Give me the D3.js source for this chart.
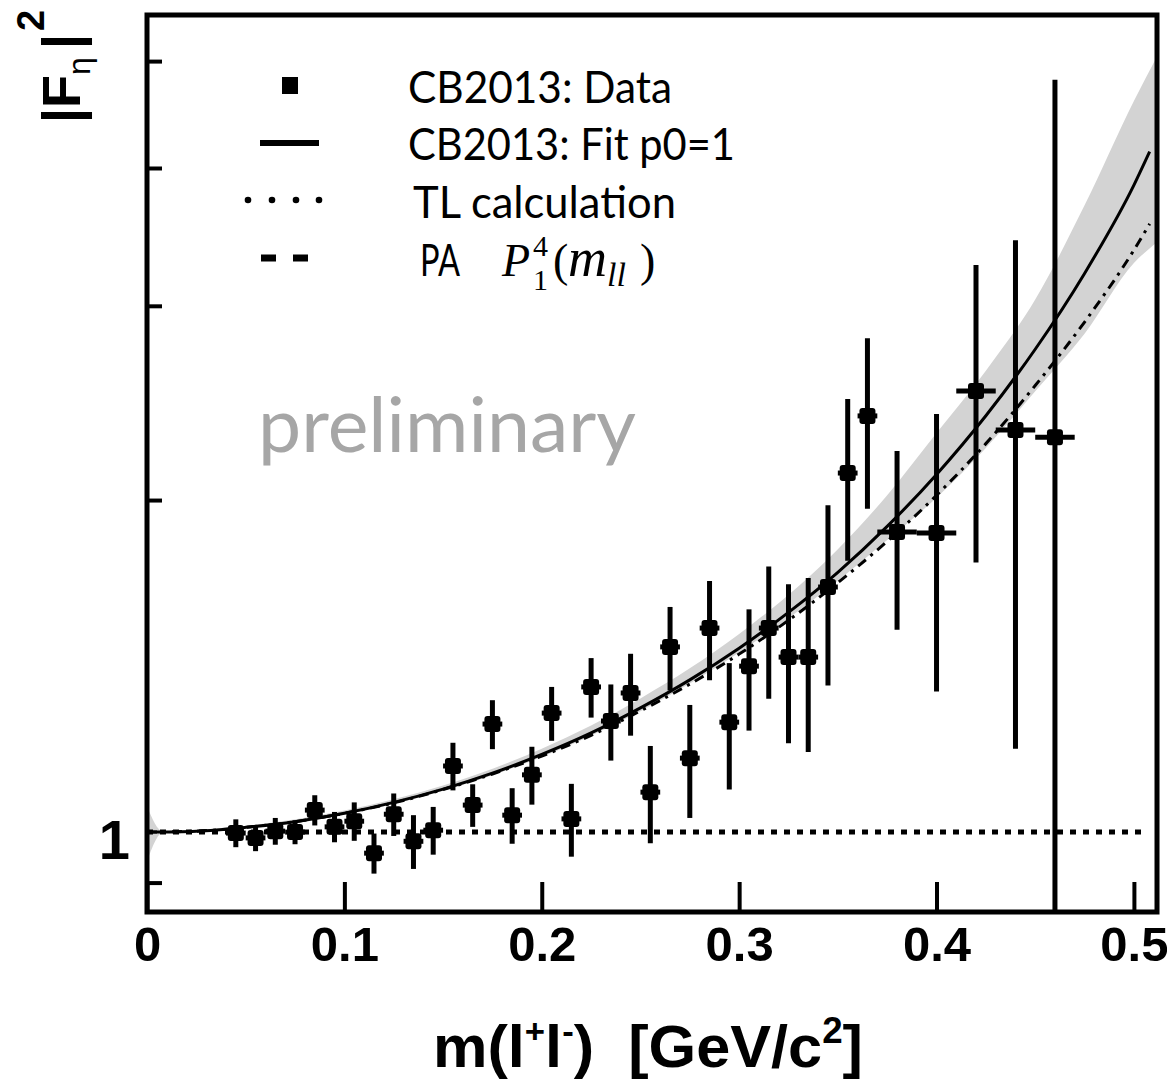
<!DOCTYPE html>
<html>
<head>
<meta charset="utf-8">
<script src="https://cdn.jsdelivr.net/npm/d3@7"></script>
<style>
  body { margin: 0; background: #fff; }
  svg { display: block; }
</style>
</head>
<body>
<svg class="ffEta"></svg>
<script>
// data points (m(l+l-) bin centres, |F|^2, errors)
const dataX = [0.045, 0.055, 0.065, 0.075, 0.085, 0.095, 0.105, 0.115, 0.125, 0.135,
               0.145, 0.155, 0.165, 0.175, 0.185, 0.195, 0.205, 0.215, 0.225, 0.235,
               0.245, 0.255, 0.265, 0.275, 0.285, 0.295, 0.305, 0.315, 0.325, 0.335,
               0.345, 0.355, 0.365, 0.38, 0.40, 0.42, 0.44, 0.46];
const dataY = [0.998, 0.988, 1.002, 1.000, 1.047, 1.011, 1.023, 0.957, 1.038, 0.981,
               1.004, 1.148, 1.058, 1.253, 1.036, 1.127, 1.282, 1.028, 1.354, 1.261,
               1.337, 1.087, 1.472, 1.167, 1.531, 1.258, 1.414, 1.531, 1.441, 1.441,
               1.668, 2.116, 2.384, 1.871, 1.867, 2.511, 2.315, 2.280];
const dataErrY = [0.029, 0.027, 0.028, 0.025, 0.033, 0.032, 0.041, 0.040, 0.046, 0.055,
                  0.050, 0.057, 0.047, 0.064, 0.060, 0.068, 0.072, 0.078, 0.084, 0.100,
                  0.114, 0.110, 0.128, 0.137, 0.158, 0.165, 0.178, 0.210, 0.237, 0.259,
                  0.310, 0.354, 0.420, 0.345, 0.526, 0.755, 1.125, 2.530];
const dataErrX = [0.005, 0.005, 0.005, 0.005, 0.005, 0.005, 0.005, 0.005, 0.005, 0.005,
                  0.005, 0.005, 0.005, 0.005, 0.005, 0.005, 0.005, 0.005, 0.005, 0.005,
                  0.005, 0.005, 0.005, 0.005, 0.005, 0.005, 0.005, 0.005, 0.005, 0.005,
                  0.005, 0.005, 0.005, 0.01, 0.01, 0.01, 0.01, 0.01];

// fit curve (p0=1) and PA P_1^4 curve
const curveX = [0, 0.025, 0.05, 0.075, 0.1, 0.125, 0.15, 0.175, 0.2, 0.225, 0.25,
                0.275, 0.3, 0.325, 0.35, 0.375, 0.4, 0.425, 0.45, 0.475, 0.5, 0.508];
const fitY = [1.000, 1.002, 1.010, 1.022, 1.040, 1.064, 1.094, 1.131, 1.176, 1.230, 1.296,
              1.374, 1.468, 1.582, 1.720, 1.893, 2.110, 2.385, 2.740, 3.210, 3.860, 4.140];
const paY = [1.000, 1.002, 1.010, 1.022, 1.040, 1.063, 1.093, 1.129, 1.172, 1.224, 1.288,
             1.362, 1.450, 1.556, 1.683, 1.835, 2.020, 2.250, 2.540, 2.900, 3.370, 3.560];

// fit error band
const bandX = [0, 0.008, 0.05, 0.1, 0.15, 0.2, 0.25, 0.3, 0.35, 0.375, 0.4, 0.425, 0.45, 0.475, 0.5, 0.512];
const bandHi = [1.055, 1.002, 1.013, 1.046, 1.102, 1.190, 1.322, 1.512, 1.805, 2.020, 2.300, 2.620, 3.040, 3.700, 4.600, 5.060];
const bandLo = [0.940, 0.999, 1.007, 1.037, 1.090, 1.170, 1.287, 1.455, 1.690, 1.840, 2.010, 2.230, 2.510, 2.830, 3.280, 3.430];

// TL calculation
const tlX = [0, 0.506];
const tlY = [1, 1];

// axes
const xTicks = [0, 0.1, 0.2, 0.3, 0.4, 0.5];
const yTicks = [0.9, 1, 2, 3, 4, 5];

const legendLabels = ["CB2013: Data", "CB2013: Fit p0=1", "TL calculation", "PA"];

const margin = {top: 15, right: 10, bottom: 169, left: 147},
      width = 1167 - margin.left - margin.right,
      height = 1081 - margin.top - margin.bottom;

const root = d3.select(".ffEta")
    .attr("width", 1167)
    .attr("height", 1081);

const svg = root.append("g")
    .attr("transform", `translate(${margin.left},${margin.top})`);

const x = d3.scaleLinear().domain([0, 0.5117]).range([0, width]);
const y = d3.scaleLog().domain([0.8464, 5.505]).range([height, 0]);

root.append("defs").append("clipPath")
    .attr("id", "plotClip")
    .append("rect")
    .attr("width", width)
    .attr("height", height);

const plot = svg.append("g").attr("clip-path", "url(#plotClip)");

// band
const bandData = bandX.map((d, i) => ({x: d, lo: bandLo[i], hi: bandHi[i]}));
plot.append("path")
    .datum(bandData)
    .attr("fill", "#d3d3d3")
    .attr("d", d3.area()
        .x(d => x(d.x))
        .y0(d => y(d.lo))
        .y1(d => y(d.hi))
        .curve(d3.curveMonotoneX));

// TL line
plot.append("path")
    .datum(tlX.map((d, i) => ({x: d, y: tlY[i]})))
    .attr("fill", "none")
    .attr("stroke", "black")
    .attr("stroke-width", 5)
    .attr("stroke-dasharray", "6,7")
    .attr("d", d3.line().x(d => x(d.x)).y(d => y(d.y)));

// PA line
plot.append("path")
    .datum(curveX.map((d, i) => ({x: d, y: paY[i]})))
    .attr("fill", "none")
    .attr("stroke", "black")
    .attr("stroke-width", 3)
    .attr("stroke-dasharray", "10,6,3,6")
    .attr("d", d3.line().x(d => x(d.x)).y(d => y(d.y)).curve(d3.curveMonotoneX));

// fit line
plot.append("path")
    .datum(curveX.map((d, i) => ({x: d, y: fitY[i]})))
    .attr("fill", "none")
    .attr("stroke", "black")
    .attr("stroke-width", 3)
    .attr("d", d3.line().x(d => x(d.x)).y(d => y(d.y)).curve(d3.curveMonotoneX));

// data points
const points = dataX.map((d, i) => ({x: d, y: dataY[i], ey: dataErrY[i], ex: dataErrX[i]}));
const yMin = y.domain()[0];

plot.selectAll(".ebarY")
    .data(points)
    .enter()
    .append("line")
    .attr("x1", d => x(d.x))
    .attr("x2", d => x(d.x))
    .attr("y1", d => y(Math.max(d.y - d.ey, yMin)))
    .attr("y2", d => y(d.y + d.ey))
    .attr("stroke", "black")
    .attr("stroke-width", 5);

plot.selectAll(".ebarX")
    .data(points)
    .enter()
    .append("line")
    .attr("x1", d => x(d.x - d.ex))
    .attr("x2", d => x(d.x + d.ex))
    .attr("y1", d => y(d.y))
    .attr("y2", d => y(d.y))
    .attr("stroke", "black")
    .attr("stroke-width", 5);

plot.selectAll(".marker")
    .data(points)
    .enter()
    .append("rect")
    .attr("x", d => x(d.x) - 8)
    .attr("y", d => y(d.y) - 8)
    .attr("width", 16)
    .attr("height", 16)
    .attr("rx", 3)
    .attr("fill", "black");

// x axis
const xAxis = svg.append("g")
    .attr("transform", `translate(0,${height})`)
    .call(d3.axisBottom(x).tickValues(xTicks).tickSize(-30).tickPadding(14)
        .tickFormat(d => d === 0 ? "0" : d3.format(".1f")(d)));
xAxis.select(".domain").remove();
xAxis.selectAll(".tick line").attr("stroke-width", 4);
xAxis.selectAll(".tick text")
    .style("font-family", "'Liberation Sans', Arial, sans-serif")
    .style("font-weight", "bold")
    .style("font-size", "49px")
    .attr("fill", "black");

// y axis
const yAxis = svg.append("g")
    .call(d3.axisLeft(y).tickValues(yTicks).tickSize(-15).tickPadding(17)
        .tickFormat(d => d === 1 ? "1" : ""));
yAxis.select(".domain").remove();
yAxis.selectAll(".tick line").attr("stroke-width", 4);
yAxis.selectAll(".tick").filter(d => d === 1).select("line").remove();
yAxis.selectAll(".tick text")
    .attr("dy", "0.47em")
    .style("font-family", "'Liberation Sans', Arial, sans-serif")
    .style("font-weight", "bold")
    .style("font-size", "56px")
    .attr("fill", "black");

// frame
svg.append("rect")
    .attr("width", width)
    .attr("height", height)
    .attr("fill", "none")
    .attr("stroke", "black")
    .attr("stroke-width", 5);

// axis titles
const xTitle = root.append("text")
    .attr("x", 433)
    .attr("y", 1067)
    .attr("textLength", 430)
    .attr("lengthAdjust", "spacingAndGlyphs")
    .style("white-space", "pre")
    .style("font-family", "'Liberation Sans', Arial, sans-serif")
    .style("font-weight", "bold")
    .style("font-size", "60px");
xTitle.append("tspan").text("m(l");
xTitle.append("tspan").attr("dy", -24).style("font-size", "34px").text("+");
xTitle.append("tspan").attr("dy", 24).text("l");
xTitle.append("tspan").attr("dy", -24).style("font-size", "34px").text("-");
xTitle.append("tspan").attr("dy", 24).text(")  [GeV/c");
xTitle.append("tspan").attr("dy", -24).style("font-size", "36px").text("2");
xTitle.append("tspan").attr("dy", 24).text("]");

const yTitle = root.append("text")
    .attr("transform", "translate(80,123) rotate(-90)")
    .style("font-family", "'Liberation Sans', Arial, sans-serif")
    .style("font-weight", "bold")
    .style("font-size", "54px");
yTitle.append("tspan").attr("x", 0).attr("y", 0).text("|F");
yTitle.append("tspan").attr("x", 48).attr("y", 10)
    .style("font-size", "32px").style("font-weight", "normal").text("η");
yTitle.append("tspan").attr("x", 74).attr("y", 0).text("|");
yTitle.append("tspan").attr("x", 92).attr("y", -36).style("font-size", "38px").text("2");

// legend
const legend = root.append("g");
legend.append("rect")
    .attr("x", 282).attr("y", 77).attr("width", 16).attr("height", 17)
    .attr("fill", "black");
legend.append("line")
    .attr("x1", 260).attr("x2", 319).attr("y1", 143).attr("y2", 143)
    .attr("stroke", "black").attr("stroke-width", 6);
legend.selectAll(".ldot")
    .data([248, 272, 296, 319])
    .enter()
    .append("circle")
    .attr("cx", d => d).attr("cy", 200).attr("r", 3.3)
    .attr("fill", "black");
legend.append("line")
    .attr("x1", 261).attr("x2", 309).attr("y1", 258).attr("y2", 258)
    .attr("stroke", "black").attr("stroke-width", 7)
    .attr("stroke-dasharray", "15,17");

const legendText = [
    {label: legendLabels[0], x: 408, y: 103, len: 264},
    {label: legendLabels[1], x: 408, y: 160, len: 327},
    {label: legendLabels[2], x: 413, y: 218, len: 263},
    {label: legendLabels[3], x: 420, y: 276, len: 40}
];
legend.selectAll(".ltext")
    .data(legendText)
    .enter()
    .append("text")
    .attr("x", d => d.x)
    .attr("y", d => d.y)
    .attr("textLength", d => d.len)
    .attr("lengthAdjust", "spacingAndGlyphs")
    .style("font-family", "Lato, 'Open Sans', sans-serif")
    .style("font-size", "44px")
    .attr("fill", "black")
    .text(d => d.label);

// PA  P_1^4(m_ll)
const mathText = legend.append("text")
    .attr("y", 276)
    .style("font-family", "'Liberation Serif', 'DejaVu Serif', serif")
    .style("font-size", "46px")
    .attr("fill", "black");
mathText.append("tspan").attr("x", 502).style("font-style", "italic").text("P");
mathText.append("tspan").attr("x", 533).attr("y", 256).style("font-size", "30px").text("4");
mathText.append("tspan").attr("x", 533).attr("y", 290).style("font-size", "30px").text("1");
mathText.append("tspan").attr("x", 553).attr("y", 276).text("(");
mathText.append("tspan").attr("x", 568).attr("y", 276).style("font-size", "54px").style("font-style", "italic").text("m");
mathText.append("tspan").attr("x", 607).attr("y", 286).style("font-size", "34px").style("font-style", "italic").text("ll");
mathText.append("tspan").attr("x", 640).attr("y", 276).text(")");

// watermark
root.append("text")
    .attr("x", 258)
    .attr("y", 452)
    .attr("textLength", 378)
    .attr("lengthAdjust", "spacingAndGlyphs")
    .style("font-family", "Lato, 'Open Sans', sans-serif")
    .style("font-size", "76px")
    .attr("fill", "#a6a6a6")
    .text("preliminary");
</script>
</body>
</html>
